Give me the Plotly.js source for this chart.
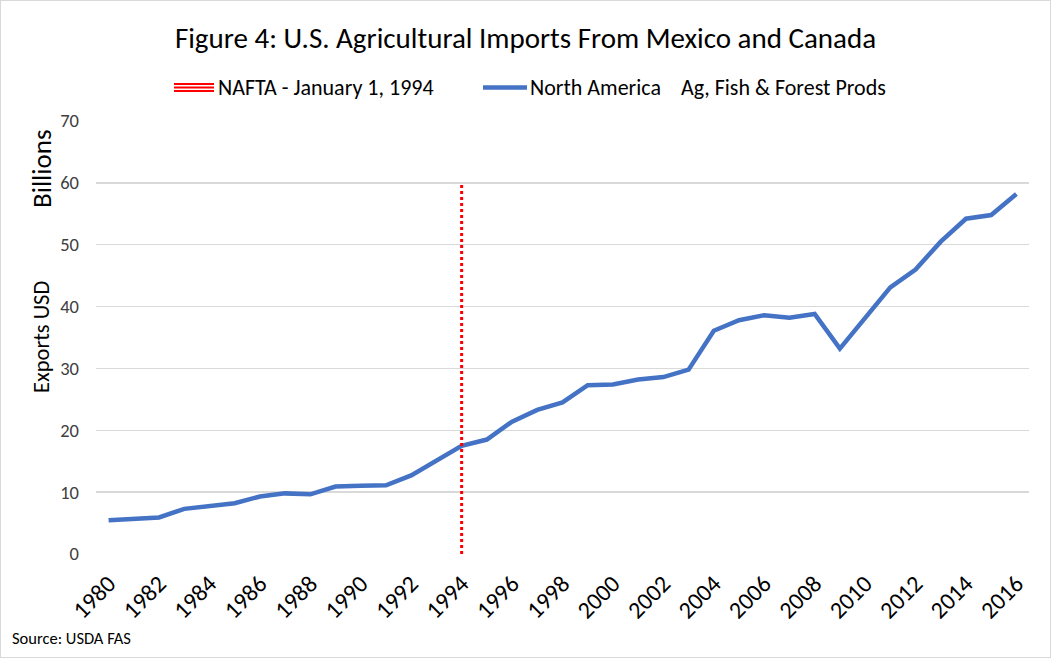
<!DOCTYPE html>
<html><head><meta charset="utf-8">
<script src="https://cdn.plot.ly/plotly-3.0.1.min.js"></script>
<style>body{margin:0;background:#fff}#frame{position:absolute;left:0;top:0;width:1049px;height:656px;border:1px solid #d9d9d9;pointer-events:none}</style>
</head><body>
<div id="chart" style="width:1051px;height:658px"></div>
<div id="frame"></div>
<script>
const years = [1980,1981,1982,1983,1984,1985,1986,1987,1988,1989,1990,1991,1992,1993,1994,1995,1996,1997,1998,1999,2000,2001,2002,2003,2004,2005,2006,2007,2008,2009,2010,2011,2012,2013,2014,2015,2016];
const importsBillions = [5.45,5.6,5.9,7.3,7.75,8.2,9.3,9.8,9.65,10.9,11.05,11.1,12.7,15.2,17.5,18.5,21.4,23.3,24.5,27.3,27.4,28.2,28.6,29.8,36.1,37.8,38.6,38.2,38.8,33.2,38.2,43.1,46.0,50.5,54.2,54.8,58.2];
const naftaX = [1994,1994];
const naftaY = [0,60];
const tickYears = [1980,1982,1984,1986,1988,1990,1992,1994,1996,1998,2000,2002,2004,2006,2008,2010,2012,2014,2016];
const seriesName = "North America    Ag, Fish & Forest Prods";
const naftaName = "NAFTA - January 1, 1994";

const FONT = "Calibri, Carlito, 'Open Sans', sans-serif";
const traces = [
  {x: years, y: importsBillions, type:'scatter', mode:'lines', name: seriesName,
   line:{color:'#4472c4', width:4.5}, showlegend:false},
  {x: naftaX, y: naftaY, type:'scatter', mode:'lines', name: naftaName,
   line:{color:'#ff0000', width:3, dash:'dot'}, showlegend:false}
];
const px = v => (v-96)/933;
const py = v => (554-v)/433;
const layout = {
  width:1051, height:658,
  margin:{l:96, r:22, t:121, b:104},
  paper_bgcolor:'#fff', plot_bgcolor:'#fff',
  font:{family:FONT, color:'#000'},
  title:{text:'Figure 4: U.S. Agricultural Imports From Mexico and Canada', x:0.5, xanchor:'center', y:1-38/658, yanchor:'middle', font:{size:29, family:FONT, color:'#000'}},
  xaxis:{range:[1979.5,2016.5], tickvals:tickYears, ticktext:tickYears.map(String), tickangle:-45,
    tickfont:{size:24, family:FONT, color:'#000'}, showgrid:false, zeroline:false, showline:false, ticks:'', ticklen:0, ticklabelstandoff:10},
  yaxis:{range:[0,70], dtick:10, tickfont:{size:18.5, family:FONT, color:'#404040'}, gridcolor:'#d9d9d9', gridwidth:1.3,
    zeroline:false, showline:false, ticks:'', ticklabelstandoff:16},
  shapes:[
    {type:'line', xref:'paper', yref:'paper', x0:px(174), x1:px(214), y0:py(84), y1:py(84), line:{color:'#ff0000', width:2}},
    {type:'line', xref:'paper', yref:'paper', x0:px(174), x1:px(214), y0:py(87.5), y1:py(87.5), line:{color:'#ff0000', width:2}},
    {type:'line', xref:'paper', yref:'paper', x0:px(174), x1:px(214), y0:py(91), y1:py(91), line:{color:'#ff0000', width:2}},
    {type:'line', xref:'paper', yref:'paper', x0:px(483), x1:px(527), y0:py(87.5), y1:py(87.5), line:{color:'#4472c4', width:4.5}}
  ],
  annotations:[
    {text:naftaName, xref:'paper', yref:'paper', x:px(216), y:py(87), xanchor:'left', yanchor:'middle', showarrow:false, font:{size:22, family:FONT, color:'#000'}},
    {text:'North America&nbsp;&nbsp;&nbsp; Ag, Fish &amp; Forest Prods', xref:'paper', yref:'paper', x:px(528), y:py(87), xanchor:'left', yanchor:'middle', showarrow:false, font:{size:22, family:FONT, color:'#000'}},
    {text:'Exports USD', xref:'paper', yref:'paper', x:px(41), y:py(337), xanchor:'center', yanchor:'middle', textangle:-90, showarrow:false, font:{size:22.5, family:FONT, color:'#000'}},
    {text:'Billions', xref:'paper', yref:'paper', x:px(41), y:py(169), xanchor:'center', yanchor:'middle', textangle:-90, showarrow:false, font:{size:27, family:FONT, color:'#000'}},
    {text:'Source: USDA FAS', xref:'paper', yref:'paper', x:px(10), y:py(638), xanchor:'left', yanchor:'middle', showarrow:false, font:{size:16.5, family:FONT, color:'#000'}}
  ]
};
Plotly.newPlot('chart', traces, layout, {displayModeBar:false, staticPlot:true});
</script>
</body></html>
